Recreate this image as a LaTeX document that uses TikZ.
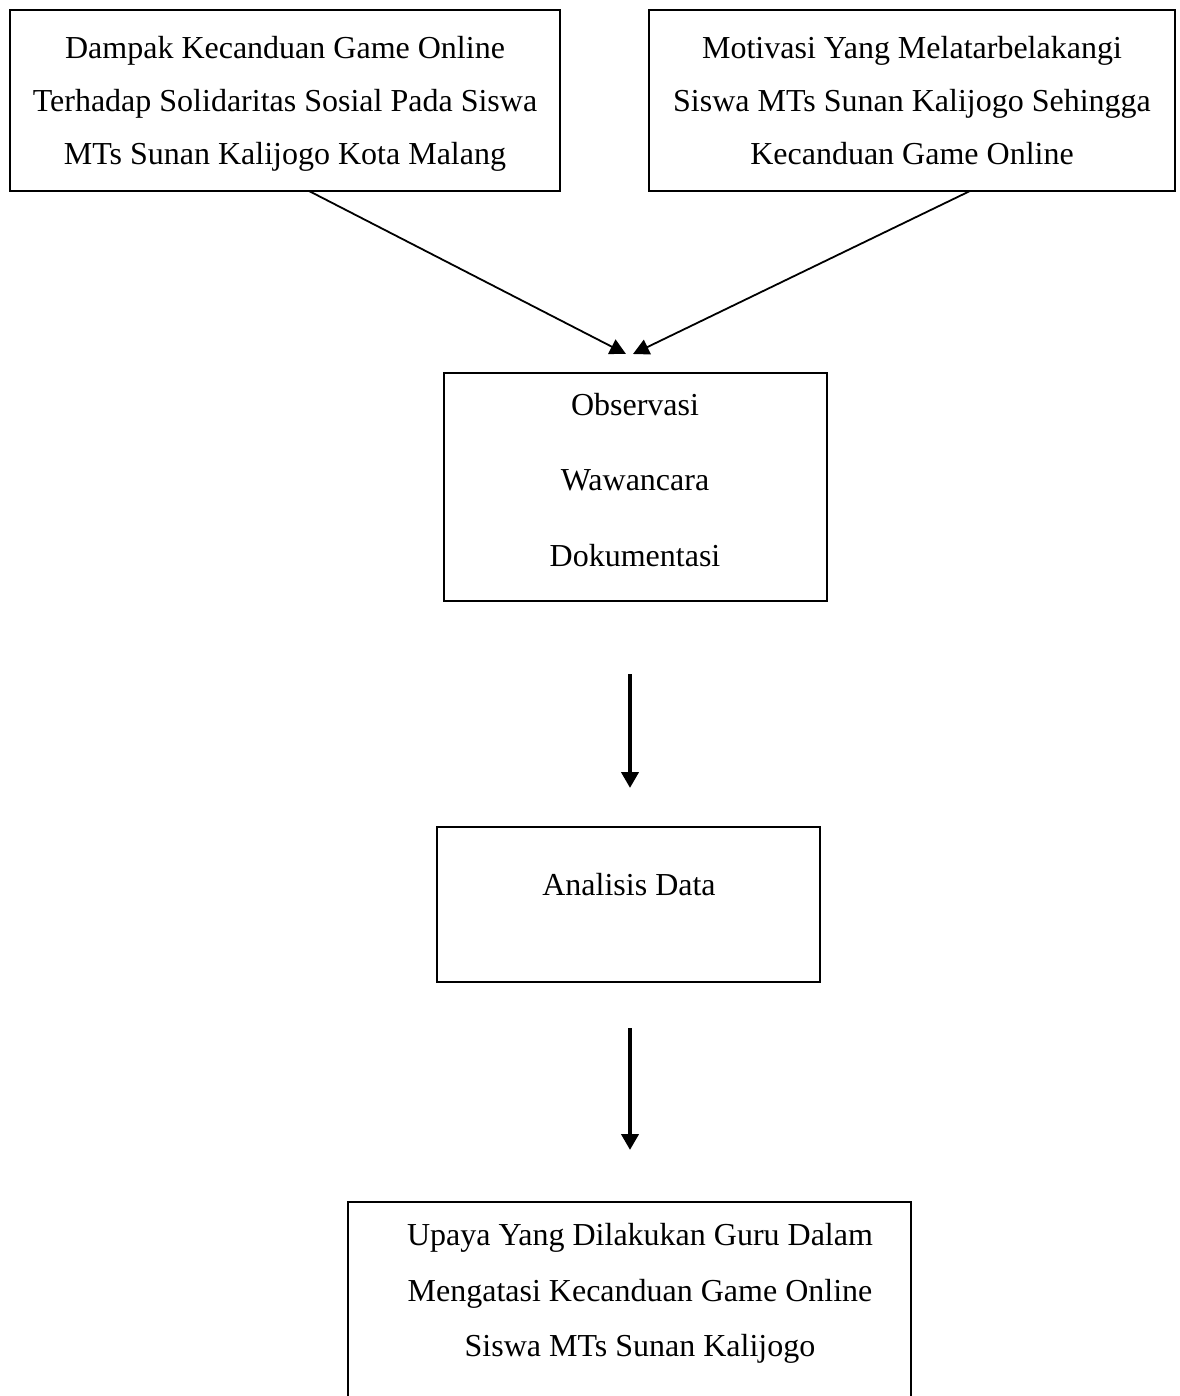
\documentclass[tikz,border=0pt]{standalone}
\usepackage{fontspec}
\setmainfont{Liberation Serif}
\usetikzlibrary{arrows.meta}
\begin{document}
\begin{tikzpicture}[x=1pt,y=-1pt,
  box/.style={draw, line width=2.5pt, inner sep=0pt},
  txt/.style={anchor=base, inner sep=0pt, font=\fontsize{32}{38}\selectfont},
  diag/.style={line width=1.8pt, -{Triangle[length=16pt,width=16pt]}},
  vert/.style={line width=4pt, -{Triangle[length=16pt,width=17pt]}}]
\useasboundingbox (0,0) rectangle (1179,1396);
\clip (0,0) rectangle (1179,1396);
% boxes
\node[box, minimum width=550pt, minimum height=181pt] (b1) at (285,100.5) {};
\node[box, minimum width=526pt, minimum height=181pt] (b2) at (912,100.5) {};
\node[box, minimum width=383pt, minimum height=228pt] (b3) at (635.5,487) {};
\node[box, minimum width=383pt, minimum height=155pt] (b4) at (628.5,904.5) {};
\node[box, minimum width=563pt, minimum height=218pt] (b5) at (629.5,1311) {};
% texts
\node[txt] (t1a) at (285,59) {Dampak Kecanduan Game Online};
\node[txt] (t1b) at (285,112) {Terhadap Solidaritas Sosial Pada Siswa};
\node[txt] (t1c) at (285,165) {MTs Sunan Kalijogo Kota Malang};
\node[txt] (t2a) at (912,59) {Motivasi Yang Melatarbelakangi};
\node[txt] (t2b) at (912,112) {Siswa MTs Sunan Kalijogo Sehingga};
\node[txt] (t2c) at (912,165) {Kecanduan Game Online};
\node[txt] (t3a) at (635,415) {Observasi};
\node[txt] (t3b) at (635,490) {Wawancara};
\node[txt] (t3c) at (635,566) {Dokumentasi};
\node[txt] (t4a) at (629,895) {Analisis Data};
\node[txt] (t5a) at (640,1245) {Upaya Yang Dilakukan Guru Dalam};
\node[txt] (t5b) at (640,1301) {Mengatasi Kecanduan Game Online};
\node[txt] (t5c) at (640,1356) {Siswa MTs Sunan Kalijogo};
% connector end points
\coordinate (s1) at (309,191);
\coordinate (e1) at (626,354);
\coordinate (s2) at (970,191);
\coordinate (e2) at (633,354);
\coordinate (s3) at (630,674);
\coordinate (e3) at (630,788);
\coordinate (s4) at (630,1028);
\coordinate (e4) at (630,1150);
\draw[diag] (s1) -- (e1);
\draw[diag] (s2) -- (e2);
\draw[vert] (s3) -- (e3);
\draw[vert] (s4) -- (e4);
\end{tikzpicture}
\end{document}
